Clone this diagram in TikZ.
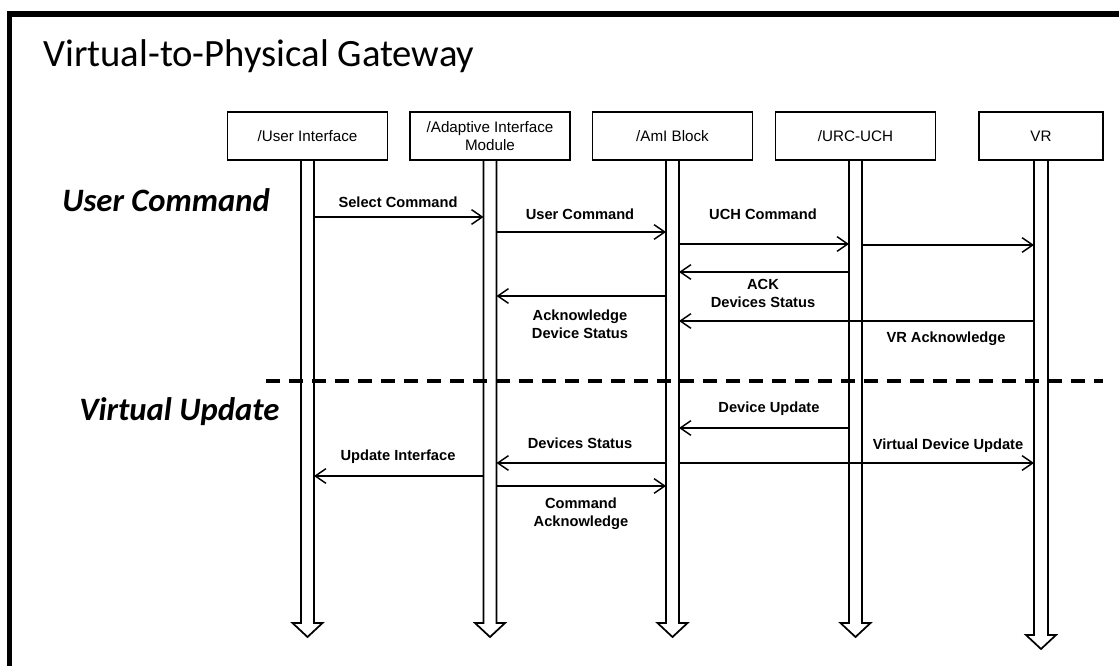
\documentclass[tikz,border=0pt]{standalone}
\usepackage{fontspec}
\setmainfont{Liberation Sans}
\newfontfamily\calfont{Carlito}
\usetikzlibrary{arrows.meta}
\begin{document}
\begin{tikzpicture}[x=0.75pt,y=-0.75pt,
  box/.style={draw,line width=1.3pt,minimum width=120pt,minimum height=36pt,inner sep=0pt,outer sep=0pt,font=\fontsize{11.4}{13.5}\selectfont,align=center},
  life/.style={line width=1.3pt,line join=miter},
  msg/.style={line width=1.5pt,-{Straight Barb[length=8pt,width=11pt,line width=1.1pt]}},
  lbl/.style={font=\fontsize{11}{13.8}\selectfont\bfseries,align=center,inner sep=0pt},
  sect/.style={font=\calfont\fontsize{24.5}{28}\selectfont\bfseries\itshape,anchor=base west,inner sep=0pt},
  frame/.style={line width=3.8pt,line join=miter},
  sep/.style={line width=2.8pt,dash pattern=on 10.5pt off 6.75pt},
]
\useasboundingbox (0,0) rectangle (1119,666);

% frame
\coordinate (fr1) at (9.5,666);
\coordinate (fr2) at (9.5,14);
\coordinate (fr3) at (1119,14);
\draw[frame] (fr1) -- (fr2) -- (fr3);

% title and sections
\node[anchor=base west,inner sep=0pt,font=\calfont\fontsize{29}{34}\selectfont] (title) at (43,67) {Virtual-to-Physical Gateway};
\node[sect] (sec1) at (62,212) {User Command};
\node[sect] (sec2) at (79,420) {Virtual Update};

% participants
\node[box] (ui) at (307.5,136) {/User Interface};
\node[box] (aim) at (490,136) {/Adaptive Interface\\Module};
\node[box] (ami) at (672.5,136) {/AmI Block};
\node[box] (urc) at (855.5,136) {/URC-UCH};
\node[box,minimum width=93pt] (vr) at (1041,136) {VR};

% lifelines (hollow arrows)
\draw[life] (ui.south) ++(-6.5,0) coordinate (uiL) -- ++(0,463) -- ++(-8.5,0) -- ++(15,14) -- ++(15,-14) -- ++(-8.5,0) -- ++(0,-463) coordinate (uiR);
\draw[life] (aim.south) ++(-6.5,0) coordinate (aimL) -- ++(0,463) -- ++(-8.5,0) -- ++(15,14) -- ++(15,-14) -- ++(-8.5,0) -- ++(0,-463) coordinate (aimR);
\draw[life] (ami.south) ++(-6.5,0) coordinate (amiL) -- ++(0,463) -- ++(-8.5,0) -- ++(15,14) -- ++(15,-14) -- ++(-8.5,0) -- ++(0,-463) coordinate (amiR);
\draw[line width=2.2pt] (amiR) -- ++(0,462);
\draw[life] (urc.south) ++(-6.5,0) coordinate (urcL) -- ++(0,463) -- ++(-8.5,0) -- ++(15,14) -- ++(15,-14) -- ++(-8.5,0) -- ++(0,-463) coordinate (urcR);
\draw[life] (vr.south) ++(-7,0) coordinate (vrL) -- ++(0,475) -- ++(-8,0) -- ++(15,14) -- ++(15,-14) -- ++(-8,0) -- ++(0,-475) coordinate (vrR);

% separator
\coordinate (dashL) at (266,381);
\coordinate (dashR) at (1103,381);
\draw[sep] (dashL) -- (dashR);

% messages: user command
\draw[msg] (uiR |- 0,217) -- (aimL |- 0,217);
\draw[msg] (aimR |- 0,232) -- (amiL |- 0,232);
\draw[msg] (amiR |- 0,244) -- (urcL |- 0,244);
\draw[msg] (urcR |- 0,245) -- (vrL |- 0,245);
\draw[msg] (urcL |- 0,272) -- (amiR |- 0,272);
\draw[msg] (amiL |- 0,296) -- (aimR |- 0,296);
\draw[msg] (vrL |- 0,321) -- (amiR |- 0,321);

% messages: virtual update
\draw[msg] (urcL |- 0,428) -- (amiR |- 0,428);
\draw[msg] (amiL |- 0,463) -- (aimR |- 0,463);
\draw[msg] (amiR |- 0,463) -- (vrL |- 0,463);
\draw[msg] (aimL |- 0,476) -- (uiR |- 0,476);
\draw[msg] (aimR |- 0,486) -- (amiL |- 0,486);

% labels
\node[lbl] (t1) at (398,202.5) {Select Command};
\node[lbl] (t2) at (580,214) {User Command};
\node[lbl] (t3) at (763,214) {UCH Command};
\node[lbl] (t4) at (763,293.5) {ACK\\Devices Status};
\node[lbl] (t5) at (580,324) {Acknowledge\\Device Status};
\node[lbl] (t6) at (946,339) {VR Acknowledge};
\node[lbl] (t7) at (769,409) {Device Update};
\node[lbl] (t8) at (580,443) {Devices Status};
\node[lbl] (t9) at (948,446) {Virtual Device Update};
\node[lbl] (t10) at (398,457) {Update Interface};
\node[lbl] (t11) at (581,514) {Command\\Acknowledge};
\end{tikzpicture}
\end{document}
